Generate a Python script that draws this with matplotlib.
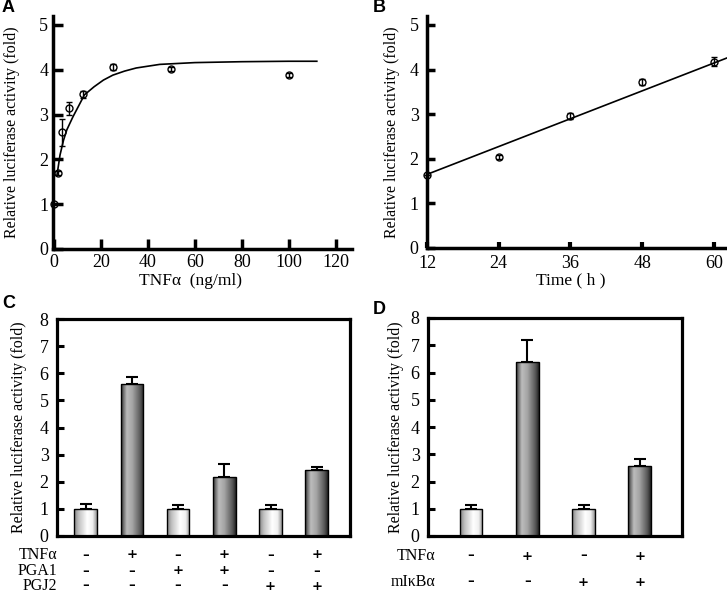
import matplotlib
matplotlib.use("Agg")
import matplotlib.pyplot as plt
from matplotlib.colors import LinearSegmentedColormap
import numpy as np

plt.rcParams['font.family'] = ['Liberation Serif', 'DejaVu Serif']

# ---- panel A: dose response ----
dose = [0, 1.56, 3.13, 6.25, 12.5, 25, 50, 100]
dose_act = [1.0, 1.7, 2.6, 3.14, 3.45, 4.06, 4.02, 3.88]
dose_err = [0.0, 0.04, 0.3, 0.14, 0.08, 0.06, 0.05, 0.05]
fit_x = [1.2, 2.5, 4.0, 5.4, 8, 10, 12.9, 17, 21, 25, 30, 35, 45, 60, 80, 100, 112]
fit_y = [1.65, 2.1, 2.43, 2.66, 2.95, 3.15, 3.44, 3.62, 3.77, 3.88, 3.97, 4.04, 4.12, 4.16, 4.18, 4.19, 4.19]

# ---- panel B: time course ----
hours = [12, 24, 36, 48, 60]
time_act = [1.64, 2.04, 2.96, 3.72, 4.18]
time_err = [0.0, 0.05, 0.07, 0.07, 0.1]
line_x = [12, 62.2]
line_y = [1.65, 4.26]

# ---- panel C: prostaglandins ----
c_vals = [1.0, 5.6, 1.0, 2.18, 1.0, 2.44]
c_err = [0.18, 0.25, 0.13, 0.48, 0.13, 0.1]
c_dark = [False, True, False, True, False, True]
c_rows = ['TNFα', 'PGA1', 'PGJ2']
c_signs = [['-', '+', '-', '+', '-', '+'],
           ['-', '-', '+', '+', '-', '-'],
           ['-', '-', '-', '-', '+', '+']]

# ---- panel D: mIkBa ----
d_vals = [1.0, 6.4, 1.0, 2.56]
d_err = [0.13, 0.78, 0.14, 0.25]
d_dark = [False, True, False, True]
d_rows = ['TNFα', 'mIκBα']
d_signs = [['-', '+', '-', '+'],
           ['-', '-', '+', '+']]

W, H = 727, 594
fig = plt.figure(figsize=(W / 100, H / 100), dpi=100)
TICK = 13
YLAB = 11.5


def px_axes(l, t, r, b):
    return fig.add_axes([l / W, 1 - b / H, (r - l) / W, (b - t) / H])


light_cm = LinearSegmentedColormap.from_list(
    'light', [(0, '#858585'), (0.2, '#c0c0c0'), (0.58, '#ffffff'), (0.82, '#f0f0f0'), (1, '#979797')])
dark_cm = LinearSegmentedColormap.from_list(
    'dark', [(0, '#363636'), (0.25, '#bdbdbd'), (0.5, '#a4a4a4'), (0.85, '#585858'), (1, '#242424')])
grad = np.linspace(0, 1, 64).reshape(1, -1)


def shaded_bars(ax, vals, errs, dark, width):
    xs = np.arange(1, len(vals) + 1)
    bars = ax.bar(xs, vals, width=width, facecolor='none', edgecolor='black', linewidth=1.0, zorder=3)
    for b, d in zip(bars, dark):
        x0, y0 = b.get_x(), b.get_y()
        im = ax.imshow(grad, cmap=dark_cm if d else light_cm, aspect='auto',
                       extent=(x0, x0 + b.get_width(), y0, y0 + b.get_height()), zorder=2)
        im.set_clip_path(b)
    ax.errorbar(xs, vals, yerr=[np.zeros(len(errs)), errs], fmt='none', ecolor='black',
                elinewidth=1.5, capsize=4, capthick=1.5, zorder=1)
    return xs


def style_box(ax):
    for s in ax.spines.values():
        s.set_linewidth(2.3)
    ax.set_ylim(0, 8)
    ax.set_yticks(range(0, 9))
    ax.tick_params(axis='y', direction='in', length=5, width=2.2, labelsize=TICK, pad=6)
    ax.set_xticks([])


def sign_rows(ax, xs, rows, signs, ys, label_x):
    for name, row, y in zip(rows, signs, ys):
        fig.text(label_x / W, 1 - y / H, name, ha='right', va='center', fontsize=11.5)
        for x, s in zip(xs, row):
            fx = ax.transData.transform((x, 0))[0] / W
            fig.text(fx, 1 - y / H, '–' if s == '-' else '+', ha='center', va='center',
                     fontsize=9.5, fontweight='bold', family=['DejaVu Sans'])


# A
axA = px_axes(53, 16, 352, 249)
axA.plot(fit_x, fit_y, color='black', lw=1.2)
axA.errorbar(dose, dose_act, yerr=dose_err, fmt='o', mfc='none', mec='black', ms=5, mew=1,
             ecolor='black', elinewidth=1, capsize=2.5, clip_on=False)
axA.set_xlim(-0.5, 127)
axA.set_ylim(0, 5.2)
axA.set_xticks(range(0, 121, 20))
axA.set_yticks(range(0, 6))
axA.spines[['top', 'right']].set_visible(False)
axA.spines[['left', 'bottom']].set_linewidth(2.5)
axA.tick_params(direction='in', length=7, width=2.5, labelsize=TICK)
axA.set_xlabel('TNFα  (ng/ml)', fontsize=12.5)
axA.xaxis.set_label_coords(0.46, -0.105)
axA.set_ylabel('Relative luciferase activity (fold)', fontsize=YLAB)
axA.yaxis.set_label_coords(-0.11, 0.5)

# B
axB = px_axes(427, 16, 727, 248)
axB.plot(line_x, line_y, color='black', lw=1.2)
axB.errorbar(hours, time_act, yerr=time_err, fmt='o', mfc='none', mec='black', ms=5, mew=1,
             ecolor='black', elinewidth=1, capsize=2.5, clip_on=False)
axB.set_xlim(12, 62.2)
axB.set_ylim(0, 5.2)
axB.set_xticks(hours)
axB.set_yticks(range(0, 6))
axB.spines[['top', 'right']].set_visible(False)
axB.spines[['left', 'bottom']].set_linewidth(2.5)
axB.tick_params(axis='x', direction='in', length=4, width=3, labelsize=TICK, pad=5)
axB.tick_params(axis='y', direction='in', length=6, width=2.5, labelsize=TICK, pad=6)
axB.set_xlabel('Time ( h )', fontsize=12.5)
axB.xaxis.set_label_coords(0.48, -0.105)
axB.set_ylabel('Relative luciferase activity (fold)', fontsize=YLAB)
axB.yaxis.set_label_coords(-0.09, 0.5)

# C
axC = px_axes(57, 319, 350, 536)
xc = shaded_bars(axC, c_vals, c_err, c_dark, 0.49)
axC.set_xlim(0.38, 6.72)
style_box(axC)
axC.set_ylabel('Relative luciferase activity (fold)', fontsize=YLAB)
axC.yaxis.set_label_coords(-0.102, 0.5)
sign_rows(axC, xc, c_rows, c_signs, [555, 571, 586], 57)

# D
axD = px_axes(428, 318, 682, 536)
xd = shaded_bars(axD, d_vals, d_err, d_dark, 0.405)
axD.set_xlim(0.234, 4.75)
style_box(axD)
axD.set_ylabel('Relative luciferase activity (fold)', fontsize=YLAB)
axD.yaxis.set_label_coords(-0.094, 0.5)
sign_rows(axD, xd, d_rows, d_signs, [556, 582], 435)

# panel letters
for lab, x, y in [('A', 2, 8), ('B', 373, 8), ('C', 2, 303), ('D', 373, 309)]:
    fig.text(x / W, 1 - y / H, lab, fontsize=13, fontweight='bold', family=['Liberation Sans'],
             ha='left', va='center')

fig.savefig('out.png', dpi=100)
